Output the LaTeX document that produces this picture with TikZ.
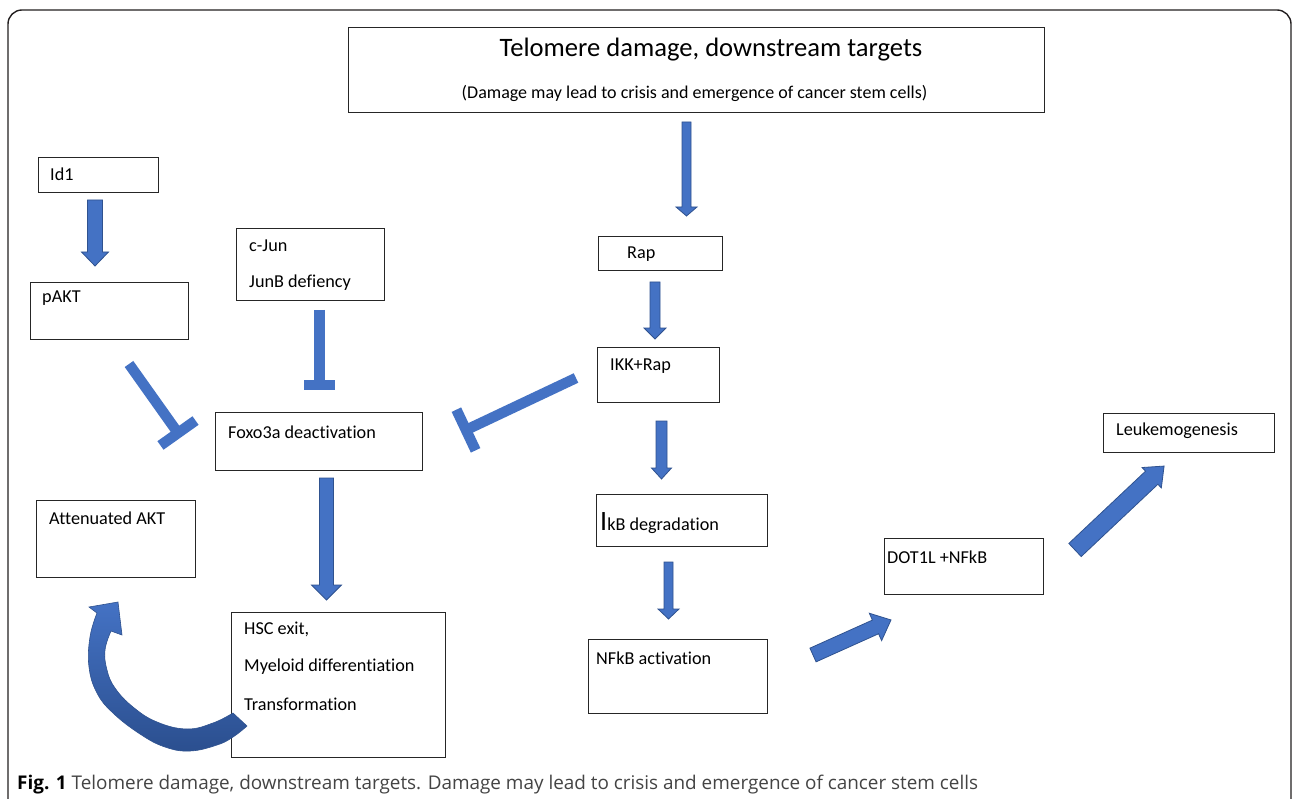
\documentclass[tikz,border=0pt]{standalone}
\usepackage{fontspec}
\setmainfont{Carlito}[Ligatures=NoCommon]
\newfontfamily\capfont{Open Sans}
\usetikzlibrary{calc}
\definecolor{ablue}{HTML}{4472C4}
\definecolor{aedge}{HTML}{2F528F}
\definecolor{adark}{HTML}{2B4F8F}
\definecolor{framec}{HTML}{231F20}
\definecolor{captxt}{HTML}{444444}
\tikzset{
 box/.style={draw=black!85, line width=1.1pt, anchor=north west, inner sep=0pt},
 lbl/.style={anchor=west, inner sep=0pt, font=\fontsize{18.2}{21}\selectfont},
 blockarrow/.style={fill=ablue, draw=aedge, line width=0.8pt},
 inhib/.style={draw=ablue, line width=10.5pt},
}
\newcommand\blockarr[7]{%
 \begin{scope}[shift={(#1,#2)}, rotate=#3]
 \filldraw[blockarrow] (0,#5) -- ({#4-#7},#5) -- ({#4-#7},#6) -- (#4,0) -- ({#4-#7},-#6) -- ({#4-#7},-#5) -- (0,-#5) -- cycle;
 \end{scope}}
\begin{document}
\begin{tikzpicture}[x=1pt,y=-1pt]
\useasboundingbox (0,0) rectangle (1292,799);
\clip (0,0) rectangle (1292,799);
\fill[white] (0,0) rectangle (1292,799);
\draw[framec, line width=1.4pt, rounded corners=14pt] (8,840) -- (8,10) -- (1291,10) -- (1291,840);
% boxes
\node[box, minimum width=696, minimum height=85] (top) at (348,27) {};
\node[box, minimum width=120, minimum height=35] (id1) at (38,157) {};
\node[box, minimum width=158, minimum height=57] (pakt) at (30,282) {};
\node[box, minimum width=148, minimum height=72] (cjun) at (236,228) {};
\node[box, minimum width=124, minimum height=34] (rap) at (598,236) {};
\node[box, minimum width=122, minimum height=55] (ikk) at (597,347) {};
\node[box, minimum width=207, minimum height=58] (foxo) at (215,412) {};
\node[box, minimum width=159, minimum height=77] (att) at (36,500) {};
\node[box, minimum width=171, minimum height=52] (ikb) at (596,494) {};
\node[box, minimum width=214, minimum height=145] (hsc) at (231,612) {};
\node[box, minimum width=179, minimum height=74] (nfkb) at (588,639) {};
\node[box, minimum width=159, minimum height=56] (dot) at (884,538) {};
\node[box, minimum width=171, minimum height=39] (leuk) at (1103,413) {};
% labels
\node[font=\fontsize{26.6}{30}\selectfont] (title) at (711,50) {Telomere damage, downstream targets};
\node[font=\fontsize{18}{21}\selectfont] (sub) at (694.5,93) {(Damage may lead to crisis and emergence of cancer stem cells)};
\node[lbl] (id1T) at (50,174) {Id1};
\node[lbl] (paktT) at (42,298) {pAKT};
\node[lbl] (cjunT) at (249,246) {c-Jun};
\node[lbl] (junbT) at (249,283) {JunB defiency};
\node[lbl] (rapT) at (627,254) {Rap};
\node[lbl] (ikkT) at (610,366) {IKK+Rap};
\node[lbl] (foxoT) at (228,432) {Foxo3a deactivation};
\node[lbl] (attT) at (49,518) {Attenuated AKT};
\node[lbl, anchor=base west] (ikbT) at (600,530) {{\fontsize{28}{28}\selectfont I}kB degradation};
\node[lbl] (hscA) at (244,629) {HSC exit,};
\node[lbl] (hscB) at (244,667) {Myeloid differentiation};
\node[lbl] (hscC) at (244,704) {Transformation};
\node[lbl] (nfkbT) at (596,658) {NFkB activation};
\node[lbl] (dotT) at (887,557) {DOT1L +NFkB};
\node[lbl] (leukT) at (1116,431) {Leukemogenesis};
% block arrows: tail x, tail y, angle, length, shaft hw, head hw, head length
\blockarr{686.5}{122}{-90}{94}{4.5}{10.5}{9}
\blockarr{655}{282}{-90}{57}{5}{11}{11}
\blockarr{661.5}{421}{-90}{58}{5.5}{10}{11}
\blockarr{668.5}{562}{-90}{57}{4.5}{10.5}{10}
\blockarr{95}{200}{-90}{66}{7.5}{13.5}{14}
\blockarr{326.5}{478}{-90}{122}{7}{15}{15}
\blockarr{813}{655}{24.2}{85.5}{7.5}{15}{17}
\blockarr{1075}{550}{43.3}{122.4}{9}{14}{17}
% inhibitors
\coordinate (pa1) at (129,364); \coordinate (pa2) at (178,433);
\draw[inhib] (pa1) -- (pa2);
\draw[inhib] ($(pa2)!21.5pt!90:(pa1)$) -- ($(pa2)!21.5pt!-90:(pa1)$);
\coordinate (cj1) at (319.5,310); \coordinate (cj2) at (319.5,385);
\draw[inhib] (cj1) -- (cj2);
\draw[inhib] ($(cj2)!15.5pt!90:(cj1)$) -- ($(cj2)!15.5pt!-90:(cj1)$);
\coordinate (ik1) at (576,378); \coordinate (ik2) at (466,430);
\draw[inhib] (ik1) -- (ik2);
\draw[inhib] ($(ik2)!22.5pt!90:(ik1)$) -- ($(ik2)!22.5pt!-90:(ik1)$);
% curved arrow
\path[top color=ablue, bottom color=adark, draw=aedge, line width=0.6pt]
 (89,607) -- (118,602) -- (122,635) -- (111,631)
 -- plot[smooth, tension=0.7] coordinates {(111,631) (105,650) (107,670) (115,688) (133,707) (157,722) (187,729) (213,723) (233,713)}
 -- (247,726)
 -- plot[smooth, tension=0.7] coordinates {(247,726) (233,737) (217,745) (190,751) (165,747) (140,734) (113,713) (97,693) (89,667) (90,637) (97,613)}
 -- cycle;
% caption
\node[anchor=base west, inner sep=0pt, font=\capfont\fontsize{18.9}{21}\selectfont, text=captxt] (cap) at (17,789) {{\color{black}\textbf{Fig. 1}} Telomere damage, downstream targets. Damage may lead to crisis and emergence of cancer stem cells};
\end{tikzpicture}
\end{document}
